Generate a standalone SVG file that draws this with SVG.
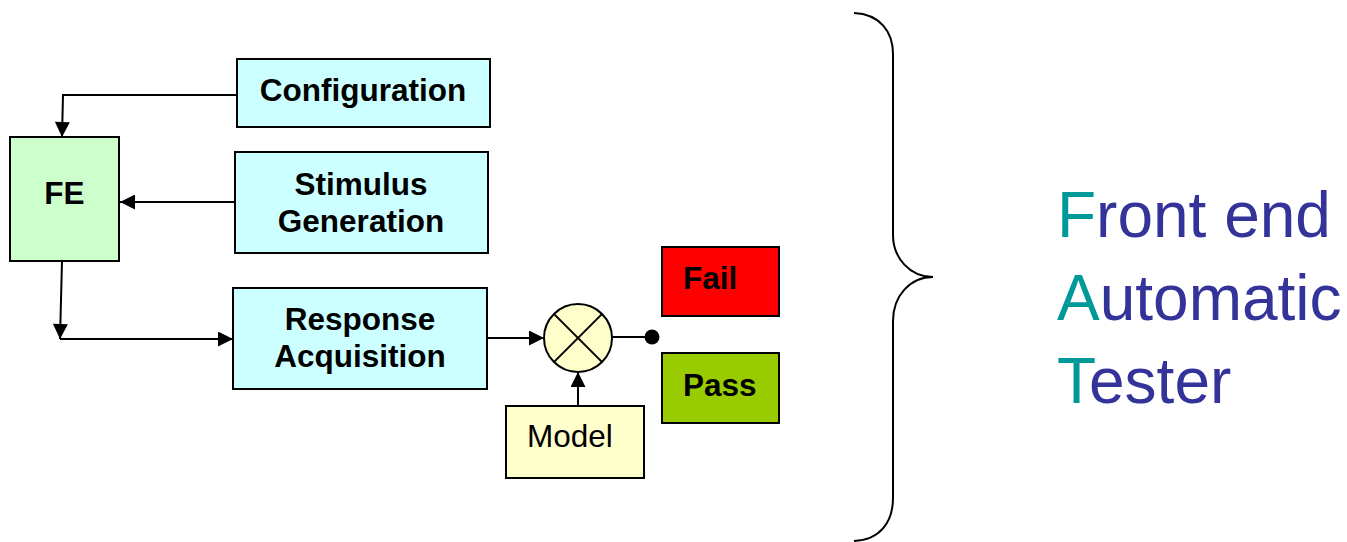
<svg xmlns="http://www.w3.org/2000/svg" width="1347" height="542" viewBox="0 0 1347 542">
  <defs>
    <marker id="arrow" viewBox="0 0 10 10" refX="10" refY="5" markerWidth="16" markerHeight="15" markerUnits="userSpaceOnUse" orient="auto">
      <path d="M0,0 L10,5 L0,10 Z" fill="#000"/>
    </marker>
    <style>
      .box { stroke: #000; stroke-width: 2; }
      .cyan { fill: #CCFFFF; }
      .lbl { font-family: "Liberation Sans", Arial, sans-serif; font-size: 31.5px; fill: #000; }
      .b { font-weight: bold; }
      .wire { fill: none; stroke: #000; stroke-width: 2; }
      .big { font-family: "Liberation Sans", Arial, sans-serif; font-size: 64px; fill: #333399; }
      .init { fill: #009999; }
    </style>
  </defs>

  <rect width="1347" height="542" fill="#fff"/>

  <!-- connectors -->
  <g id="connectors">
    <polyline class="wire" points="237,95 63,95 62,137" marker-end="url(#arrow)"/>
    <line class="wire" x1="235" y1="202" x2="120" y2="202" marker-end="url(#arrow)"/>
    <line class="wire" x1="62" y1="261" x2="60" y2="339" marker-end="url(#arrow)"/>
    <line class="wire" x1="60" y1="339" x2="233" y2="339" marker-end="url(#arrow)"/>
    <line class="wire" x1="487" y1="338" x2="544" y2="338" marker-end="url(#arrow)"/>
    <line class="wire" x1="578" y1="406" x2="578" y2="372" marker-end="url(#arrow)"/>
    <line class="wire" x1="612" y1="337" x2="652" y2="337"/>
    <circle cx="652" cy="337" r="7.5" fill="#000"/>
  </g>

  <g id="fe">
    <rect class="box" x="10" y="137" width="109" height="124" fill="#CCFFCC"/>
    <text class="lbl b" x="64.5" y="204" text-anchor="middle">FE</text>
  </g>

  <g id="configuration">
    <rect class="box cyan" x="237" y="59" width="253" height="68"/>
    <text class="lbl b" x="363" y="101" text-anchor="middle">Configuration</text>
  </g>

  <g id="stimulus">
    <rect class="box cyan" x="235" y="152" width="253" height="101"/>
    <text class="lbl b" x="361" y="195" text-anchor="middle">Stimulus</text>
    <text class="lbl b" x="361" y="232" text-anchor="middle">Generation</text>
  </g>

  <g id="response">
    <rect class="box cyan" x="233" y="288" width="254" height="101"/>
    <text class="lbl b" x="360" y="330" text-anchor="middle">Response</text>
    <text class="lbl b" x="360" y="367" text-anchor="middle">Acquisition</text>
  </g>

  <g id="comparator">
    <circle cx="578" cy="338" r="34" fill="#FFFFCC" stroke="#000" stroke-width="2"/>
    <line x1="554" y1="314" x2="602" y2="362" stroke="#000" stroke-width="1.8"/>
    <line x1="602" y1="314" x2="554" y2="362" stroke="#000" stroke-width="1.8"/>
  </g>

  <g id="model">
    <rect class="box" x="506" y="406" width="138" height="72" fill="#FFFFCC"/>
    <text class="lbl" x="527" y="447">Model</text>
  </g>

  <g id="fail">
    <rect class="box" x="662" y="247" width="117" height="69" fill="#FF0000"/>
    <text class="lbl b" x="683" y="289">Fail</text>
  </g>

  <g id="pass">
    <rect class="box" x="662" y="353" width="117" height="70" fill="#99CC00"/>
    <text class="lbl b" x="683" y="396">Pass</text>
  </g>

  <!-- brace and acronym -->
  <g id="brace">
    <path d="M854,13 C880,14 893,32 893,54 L893,235 C893,258 910,277 933,277 C910,277 893,296 893,321 L893,498 C893,522 880,540 854,541" fill="none" stroke="#000" stroke-width="2"/>
  </g>

  <g id="fat-label">
    <text class="big" x="1057" y="237"><tspan class="init">F</tspan>ront end</text>
    <text class="big" x="1057" y="320"><tspan class="init">A</tspan>utomatic</text>
    <text class="big" x="1057" y="403"><tspan class="init">T</tspan>ester</text>
  </g>
</svg>
